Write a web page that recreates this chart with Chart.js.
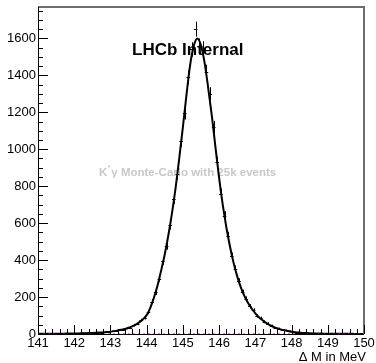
<!DOCTYPE html>
<html>
<head>
<meta charset="utf-8">
<script src="https://cdn.jsdelivr.net/npm/chart.js@4.4.1/dist/chart.umd.min.js"></script>
<style>
  body { margin: 0; background: #fff; }
  #wrap { width: 376px; height: 363px; }
</style>
</head>
<body>
<div id="wrap"><canvas id="dmChart" width="376" height="363"></canvas></div>
<script>
// Delta M histogram, 0.1 MeV bins from 141 to 150 (90 bins)
const binLo = 141.0;
const binWidth = 0.1;
const counts = [
  1, 0, 2, 1, 1, 3, 2, 1, 3, 2,
  4, 3, 5, 4, 6, 5, 8, 7, 11, 10,
  15, 16, 23, 24, 31, 35, 48, 55, 74, 88,
  118, 175, 226, 300, 395, 478, 590, 730, 865, 1045,
  1195, 1390, 1540, 1650, 1560, 1545, 1420, 1300, 1120, 930,
  760, 640, 530, 420, 352, 285, 225, 190, 150, 128,
  98, 85, 66, 56, 44, 33, 29, 21, 19, 14,
  12, 8, 7, 5, 5, 3, 3, 2, 3, 1,
  2, 1, 1, 2, 0, 1, 1, 0, 1, 0
];

// fit curve, read every 0.1 MeV from 141.0 to 150.0
const fitVals = [
  0.8, 0.9, 1.0, 1.1, 1.3, 1.5, 1.7, 1.9, 2.2, 2.4,
  2.8, 3.2, 3.6, 4.2, 4.8, 5.6, 6.4, 7.5, 8.8, 10.6,
  12.8, 15.5, 19.2, 23.5, 27.2, 33.6, 41.6, 51.2, 64, 80,
  102, 142, 196, 262, 344, 432, 536, 656, 792, 952,
  1120, 1296, 1456, 1560, 1600, 1562, 1468, 1330, 1180, 1010,
  845, 700, 578, 474, 385, 312, 252, 205, 168, 138,
  112, 91, 74, 60, 48, 39, 31, 25, 20, 16,
  12.5, 9.8, 7.6, 6.0, 4.8, 3.9, 3.2, 2.6, 2.2, 1.8,
  1.6, 1.4, 1.2, 1.1, 1.0, 0.9, 0.8, 0.7, 0.6, 0.55,
  0.5
];

// background component (flat, ~0)
const bkgX = [141, 150];
const bkgVals = [0, 0];

const xTicks = [141, 142, 143, 144, 145, 146, 147, 148, 149, 150];
const yTicks = [0, 200, 400, 600, 800, 1000, 1200, 1400, 1600];

const binCentres = counts.map((c, i) => +(binLo + (i + 0.5) * binWidth).toFixed(2));
const fitX = fitVals.map((v, i) => +(binLo + i * binWidth).toFixed(1));

const FONT = '"Liberation Sans", Arial, Helvetica, sans-serif';

// ROOT style frame, ticks, labels, error bars and texts
const rootStyle = {
  id: 'rootStyle',
  beforeDatasetsDraw(chart) {
    const ctx = chart.ctx;
    ctx.save();
    // watermark
    ctx.fillStyle = '#c8c8c8';
    ctx.font = 'bold 11.5px ' + FONT;
    ctx.textBaseline = 'alphabetic';
    ctx.textAlign = 'left';
    let tx = 99;
    const ty = 176;
    ctx.fillText('K', tx, ty);
    tx += ctx.measureText('K').width;
    ctx.font = 'bold 7px ' + FONT;
    ctx.fillText('*', tx + 0.5, ty - 6);
    tx += 4;
    ctx.font = 'bold 11.5px ' + FONT;
    ctx.fillText('\u03b3 Monte-Carlo with 25k events', tx, ty);
    // label
    ctx.fillStyle = '#000';
    ctx.font = 'bold 17px ' + FONT;
    ctx.fillText('LHCb Internal', 132, 55);
    ctx.restore();
  },
  afterDatasetsDraw(chart) {
    const ctx = chart.ctx;
    const xs = chart.scales.x;
    const ys = chart.scales.y;
    const a = chart.chartArea;
    ctx.save();

    // error bars
    ctx.strokeStyle = '#000';
    ctx.lineWidth = 1;
    ctx.beginPath();
    counts.forEach((n, i) => {
      if (n <= 0) return;
      const c = binCentres[i];
      const err = Math.sqrt(n);
      const px = Math.round(xs.getPixelForValue(c)) + 0.5;
      const py = Math.round(ys.getPixelForValue(n)) + 0.5;
      ctx.moveTo(xs.getPixelForValue(c - binWidth / 2), py);
      ctx.lineTo(xs.getPixelForValue(c + binWidth / 2), py);
      ctx.moveTo(px, ys.getPixelForValue(n + err));
      ctx.lineTo(px, Math.min(ys.getPixelForValue(n - err), a.bottom));
    });
    ctx.stroke();

    // frame: top and right in grey
    ctx.strokeStyle = '#6e6e6e';
    ctx.lineWidth = 2;
    ctx.beginPath();
    ctx.moveTo(a.left, a.top);
    ctx.lineTo(a.right, a.top);
    ctx.lineTo(a.right, a.bottom);
    ctx.stroke();

    // axes
    ctx.strokeStyle = '#000';
    ctx.lineWidth = 1;
    ctx.beginPath();
    ctx.moveTo(a.left + 0.5, a.top);
    ctx.lineTo(a.left + 0.5, a.bottom + 0.5);
    ctx.lineTo(a.right, a.bottom + 0.5);

    // y ticks: major every 200, minor every 50
    for (let v = 0; v <= ys.max; v += 50) {
      const py = Math.round(ys.getPixelForValue(v)) + 0.5;
      const len = (v % 200 === 0) ? 10 : 5;
      ctx.moveTo(a.left, py);
      ctx.lineTo(a.left + len, py);
    }
    // x ticks: major every 1, minor every 0.2
    for (let k = 0; k <= 45; k++) {
      const v = 141 + k * 0.2;
      const px = Math.round(xs.getPixelForValue(v)) + 0.5;
      const len = (k % 5 === 0) ? 9 : 5;
      ctx.moveTo(px, a.bottom);
      ctx.lineTo(px, a.bottom - len);
    }
    ctx.stroke();

    // tick labels
    ctx.fillStyle = '#000';
    ctx.font = '13px ' + FONT;
    ctx.textAlign = 'right';
    ctx.textBaseline = 'middle';
    yTicks.forEach(v => {
      ctx.fillText(String(v), a.left - 2, ys.getPixelForValue(v));
    });
    ctx.textAlign = 'center';
    ctx.textBaseline = 'top';
    xTicks.forEach(v => {
      ctx.fillText(String(v), xs.getPixelForValue(v), a.bottom + 3);
    });

    // axis title
    ctx.textAlign = 'right';
    ctx.textBaseline = 'alphabetic';
    ctx.fillText('\u0394 M in MeV', a.right + 2, 361);
    ctx.restore();
  }
};

const ctx = document.getElementById('dmChart').getContext('2d');
const chart = new Chart(ctx, {
  type: 'scatter',
  data: {
    datasets: [{
      label: 'bkg',
      data: bkgX.map((x, i) => ({ x: x, y: bkgVals[i] })),
      showLine: true,
      borderColor: '#d000d0',
      borderWidth: 1,
      borderDash: [2, 3],
      pointRadius: 0
    }, {
      label: 'fit',
      data: fitX.map((x, i) => ({ x: x, y: fitVals[i] })),
      showLine: true,
      borderColor: '#000',
      borderWidth: 2,
      cubicInterpolationMode: 'monotone',
      pointRadius: 0
    }]
  },
  plugins: [rootStyle],
  options: {
    responsive: false,
    animation: false,
    layout: { padding: { left: 38, right: 12, top: 7, bottom: 29 } },
    plugins: {
      legend: { display: false },
      tooltip: { enabled: false }
    },
    scales: {
      x: { type: 'linear', min: 141, max: 150, display: false },
      y: { type: 'linear', min: 0, max: 1770, display: false }
    }
  }
});
</script>
</body>
</html>
